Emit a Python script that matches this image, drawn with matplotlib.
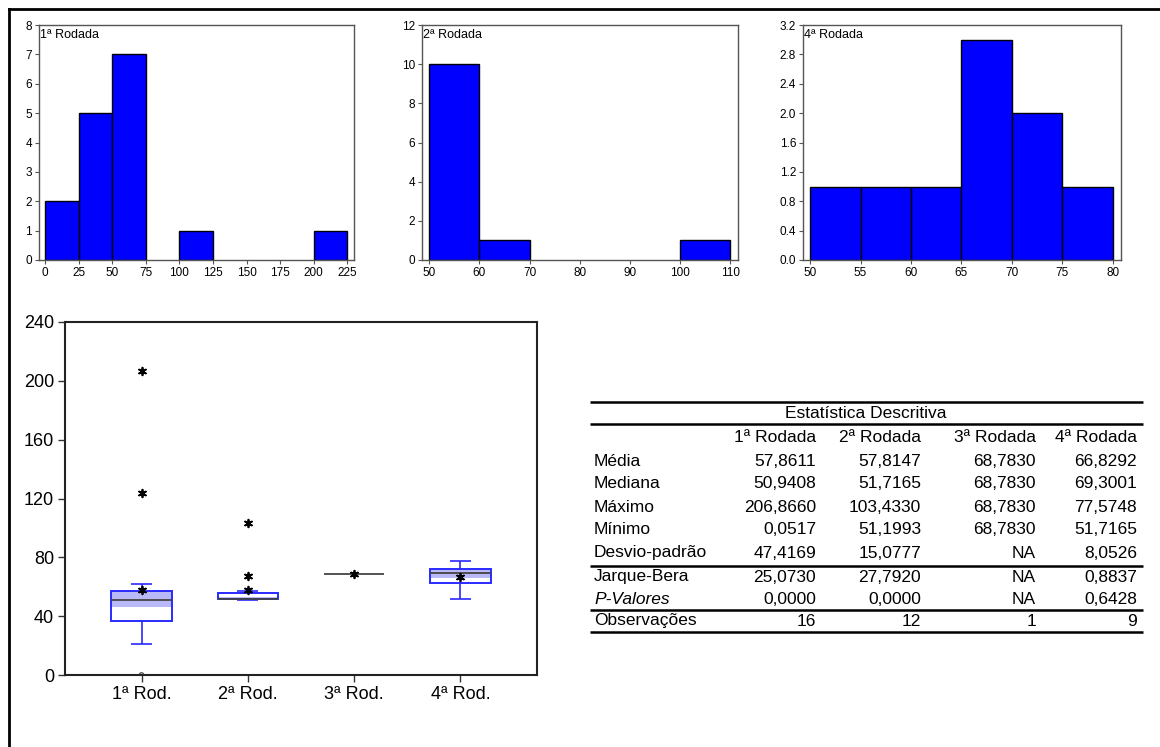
import matplotlib
matplotlib.use("Agg")
import matplotlib.pyplot as plt
import numpy as np
from matplotlib.lines import Line2D

plt.rcParams["font.family"] = ["Liberation Sans", "DejaVu Sans"]

W, H = 1160, 747

# histogramas (limites das classes e frequencias)
hist1_edges = [0, 25, 50, 75, 100, 125, 150, 175, 200, 225]
hist1_counts = [2, 5, 7, 0, 1, 0, 0, 0, 1]
hist2_edges = [50, 60, 70, 80, 90, 100, 110]
hist2_counts = [10, 1, 0, 0, 0, 1]
hist4_edges = [50, 55, 60, 65, 70, 75, 80]
hist4_counts = [1, 1, 1, 3, 2, 1]

# boxplots
box_labels = ["1ª Rod.", "2ª Rod.", "3ª Rod.", "4ª Rod."]
box_q1 = [36.9, 51.4, 68.783, 62.3]
box_q3 = [57.1, 55.5, 68.783, 71.9]
box_med = [50.9408, 51.7165, 68.783, 69.3001]
box_mean = [57.8611, 57.8147, 68.783, 66.8292]
whisk_lo = [20.9, 51.1993, 68.783, 51.7165]
whisk_hi = [62.1, 57.1, 68.783, 77.5748]
shade_lo = [46.4, 51.4, 68.783, 65.8]
shade_hi = [57.1, 53.2, 68.783, 71.9]
near_out = [[123.9, 206.866], [67.0, 103.433], [], []]
far_out = [[0.0517], [], [], []]

# tabela
tab_cols = ["1ª Rodada", "2ª Rodada", "3ª Rodada", "4ª Rodada"]
media = [57.8611, 57.8147, 68.7830, 66.8292]
mediana = [50.9408, 51.7165, 68.7830, 69.3001]
maximo = [206.8660, 103.4330, 68.7830, 77.5748]
minimo = [0.0517, 51.1993, 68.7830, 51.7165]
desvio = [47.4169, 15.0777, None, 8.0526]
jarque_bera = [25.0730, 27.7920, None, 0.8837]
p_valores = [0.0000, 0.0000, None, 0.6428]
observacoes = [16, 12, 1, 9]


def px_axes(x0, y0, x1, y1):
    return fig.add_axes([x0 / W, 1 - y1 / H, (x1 - x0) / W, (y1 - y0) / H])


def draw_hist(ax, edges, counts, xlim, ylim, xticks, yticks, label, yfmt=None):
    left = np.array(edges[:-1])
    width = np.diff(edges)
    cnt = np.array(counts)
    keep = cnt > 0
    ax.bar(left[keep], cnt[keep], width=width[keep], align="edge",
           color="#0000FF", edgecolor="black", linewidth=1.0)
    ax.set_xlim(*xlim)
    ax.set_ylim(*ylim)
    ax.set_xticks(xticks)
    ax.set_yticks(yticks)
    if yfmt:
        ax.set_yticklabels([yfmt % v for v in yticks])
    ax.tick_params(labelsize=8.5, length=3, width=0.8, color="#555555", pad=2)
    for s in ax.spines.values():
        s.set_color("#555555")
        s.set_linewidth(1.0)
    ax.text(0.004, 0.985, label, transform=ax.transAxes, ha="left", va="top", fontsize=9)


fig = plt.figure(figsize=(W / 100, H / 100), dpi=100)

ax1 = px_axes(39, 25, 354, 260)
draw_hist(ax1, hist1_edges, hist1_counts, (-4.5, 230), (0, 8),
          np.arange(0, 226, 25), np.arange(0, 9, 1), "1ª Rodada")

ax2 = px_axes(422, 25, 738, 260)
draw_hist(ax2, hist2_edges, hist2_counts, (48.6, 111.5), (0, 12),
          np.arange(50, 111, 10), np.arange(0, 13, 2), "2ª Rodada")

ax3 = px_axes(803, 25, 1121, 260)
draw_hist(ax3, hist4_edges, hist4_counts, (49.3, 80.8), (0, 3.2),
          np.arange(50, 81, 5), np.arange(0, 3.21, 0.4), "4ª Rodada", yfmt="%.1f")

# boxplot
bx = px_axes(65, 322, 537, 675)
pos = np.arange(1, len(box_labels) + 1)
bw = 0.57
cw = 0.2
blue = "#2a2aff"
star = (6, 2, 0)
for i, p in enumerate(pos):
    if box_q3[i] > box_q1[i]:
        bx.bar(p, shade_hi[i] - shade_lo[i], bottom=shade_lo[i], width=bw,
               color="#B9B9F7", linewidth=0, zorder=2)
        bx.bar(p, box_q3[i] - box_q1[i], bottom=box_q1[i], width=bw,
               facecolor="none", edgecolor=blue, linewidth=1.4, zorder=3)
    if whisk_hi[i] > box_q3[i]:
        bx.vlines(p, box_q3[i], whisk_hi[i], color=blue, linewidth=1.2, zorder=2)
        bx.hlines(whisk_hi[i], p - cw / 2, p + cw / 2, color=blue, linewidth=1.2, zorder=2)
    if whisk_lo[i] < box_q1[i]:
        bx.vlines(p, whisk_lo[i], box_q1[i], color=blue, linewidth=1.2, zorder=2)
        bx.hlines(whisk_lo[i], p - cw / 2, p + cw / 2, color=blue, linewidth=1.2, zorder=2)
    bx.hlines(box_med[i], p - bw / 2, p + bw / 2, color="#444444", linewidth=1.3, zorder=4)
    bx.scatter([p], [box_mean[i]], marker=star, s=30, color="black", linewidths=1.3, zorder=5)
    if near_out[i]:
        bx.scatter([p] * len(near_out[i]), near_out[i], marker=star, s=30,
                   color="black", linewidths=1.3, zorder=5)
    if far_out[i]:
        bx.scatter([p] * len(far_out[i]), far_out[i], marker="o", s=10,
                   facecolor="none", edgecolor="#333333", linewidths=0.8, zorder=5)

bx.set_xlim(0.28, 4.72)
bx.set_ylim(0, 240)
bx.set_xticks(pos)
bx.set_xticklabels(box_labels)
bx.set_yticks(np.arange(0, 241, 40))
bx.tick_params(labelsize=13, length=5, width=1.0, color="#333333", pad=3)
for s in bx.spines.values():
    s.set_color("#222222")
    s.set_linewidth(1.5)

# tabela de estatisticas
tx = px_axes(590, 402, 1143, 631)
tx.set_xlim(590, 1143)
tx.set_ylim(631, 402)
tx.axis("off")


def fmt(v):
    if v is None:
        return "NA"
    if isinstance(v, int):
        return str(v)
    return f"{v:.4f}".replace(".", ",")


col_right = [816, 921, 1036, 1137]
row_names = ["Média", "Mediana", "Máximo", "Mínimo", "Desvio-padrão",
             "Jarque-Bera", "P-Valores", "Observações"]
row_vals = [media, mediana, maximo, minimo, desvio, jarque_bera, p_valores, observacoes]
row_y = [461, 484, 507, 530, 553, 577, 599, 621]
fs = 12.5

tx.text(866, 413, "Estatística Descritiva", ha="center", va="center", fontsize=fs)
for x, c in zip(col_right, tab_cols):
    tx.text(x, 438, c, ha="right", va="center", fontsize=fs)
for name, vals, y in zip(row_names, row_vals, row_y):
    tx.text(594, y, name, ha="left", va="center", fontsize=fs,
            style="italic" if name == "P-Valores" else "normal")
    for x, v in zip(col_right, vals):
        tx.text(x, y, fmt(v), ha="right", va="center", fontsize=fs)
for y in [402, 424, 566, 610, 632]:
    tx.hlines(y, 590, 1143, color="black", linewidth=1.8, clip_on=False)

# moldura externa
fig.add_artist(Line2D([9 / W, 1], [1 - 9 / H, 1 - 9 / H], transform=fig.transFigure,
                      color="black", linewidth=2))
fig.add_artist(Line2D([9 / W, 9 / W], [0, 1 - 9 / H], transform=fig.transFigure,
                      color="black", linewidth=2))

fig.savefig("out.png", dpi=100)
